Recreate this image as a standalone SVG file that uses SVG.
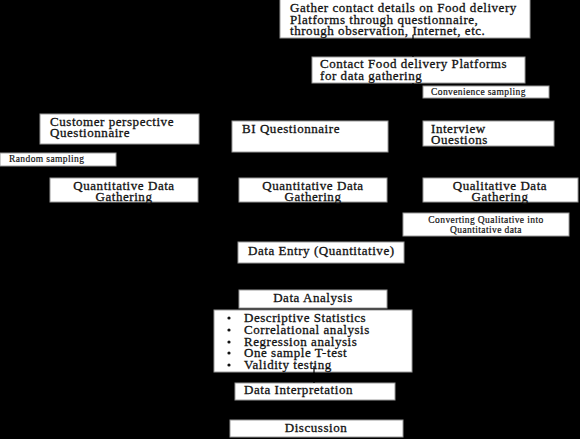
<svg xmlns="http://www.w3.org/2000/svg" width="580" height="439" viewBox="0 0 580 439">
<style>
.bx{fill:#fff;stroke:#9a9a9a;stroke-width:1}
.t{font-family:"Liberation Serif","Times New Roman",serif;font-size:13px;fill:#111;stroke:#111;stroke-width:0.3;letter-spacing:0.55px}
.s{font-family:"Liberation Serif","Times New Roman",serif;font-size:9.5px;fill:#111;stroke:#111;stroke-width:0.2;letter-spacing:0.4px}
.c{text-anchor:middle}
.cn{stroke:#000;stroke-width:1.2;fill:none}
</style>
<rect width="580" height="439" fill="#000"/>
<g id="n-gather"><rect class="bx" x="280" y="-1" width="250" height="39"/>
<text class="t" x="290" y="12">Gather contact details on Food delivery</text>
<text class="t" x="290" y="24">Platforms through questionnaire,</text>
<text class="t" x="290" y="35">through observation, Internet, etc.</text></g>
<g id="n-contact"><rect class="bx" x="312" y="57" width="213" height="26"/>
<text class="t" x="320" y="68">Contact Food delivery Platforms</text>
<text class="t" x="320" y="80">for data gathering</text></g>
<g id="n-conv"><rect class="bx" x="423" y="86" width="126" height="12"/>
<text class="s" x="431" y="95">Convenience sampling</text></g>
<g id="n-customer"><rect class="bx" x="40" y="114" width="159" height="30"/>
<text class="t" x="50" y="126">Customer perspective</text>
<text class="t" x="50" y="137">Questionnaire</text></g>
<g id="n-random"><rect class="bx" x="0" y="153" width="116" height="13"/>
<text class="s" x="9" y="162">Random sampling</text></g>
<g id="n-bi"><rect class="bx" x="232" y="121" width="156" height="31"/>
<text class="t" x="242" y="133">BI Questionnaire</text></g>
<g id="n-interview"><rect class="bx" x="423" y="121" width="131" height="25"/>
<text class="t" x="431" y="133">Interview</text>
<text class="t" x="431" y="144">Ouestions</text></g>
<g id="n-quant1"><rect class="bx" x="50" y="178" width="148" height="24"/>
<text class="t c" x="124" y="190">Quantitative Data</text>
<text class="t c" x="124" y="201">Gathering</text></g>
<g id="n-quant2"><rect class="bx" x="239" y="178" width="148" height="24"/>
<text class="t c" x="313" y="190">Quantitative Data</text>
<text class="t c" x="313" y="201">Gathering</text></g>
<g id="n-qual"><rect class="bx" x="423" y="178" width="155" height="24"/>
<text class="t c" x="500" y="190">Qualitative Data</text>
<text class="t c" x="500" y="201">Gathering</text></g>
<g id="n-converting"><rect class="bx" x="403" y="213" width="166" height="23"/>
<text class="s c" x="486" y="223">Converting Qualitative into</text>
<text class="s c" x="486" y="233">Quantitative data</text></g>
<g id="n-entry"><rect class="bx" x="238" y="242" width="166" height="21"/>
<text class="t" x="248" y="255">Data Entry (Quantitative)</text></g>
<g id="n-analysis"><rect class="bx" x="239" y="290" width="148" height="18"/>
<text class="t c" x="313" y="302">Data Analysis</text></g>
<g id="n-methods"><rect class="bx" x="214" y="310" width="198" height="62"/>
<g fill="#111"><circle cx="229" cy="318" r="1.6"/><circle cx="229" cy="330" r="1.6"/><circle cx="229" cy="342" r="1.6"/><circle cx="229" cy="353" r="1.6"/><circle cx="229" cy="365" r="1.6"/></g>
<text class="t" x="244" y="322">Descriptive Statistics</text>
<text class="t" x="244" y="334">Correlational analysis</text>
<text class="t" x="244" y="346">Regression analysis</text>
<text class="t" x="244" y="357">One sample T-test</text>
<text class="t" x="244" y="369">Validity testing</text></g>
<g id="n-interp"><rect class="bx" x="235" y="383" width="160" height="17"/>
<text class="t" x="244" y="394">Data Interpretation</text></g>
<g id="n-discussion"><rect class="bx" x="230" y="420" width="173" height="17"/>
<text class="t c" x="316" y="432">Discussion</text></g>
<g id="connectors">
<line class="cn" x1="413" y1="35" x2="413" y2="57"/>
<line class="cn" x1="413" y1="83" x2="413" y2="86"/>
<line class="cn" x1="314" y1="366" x2="314" y2="383"/>
</g>
</svg>
